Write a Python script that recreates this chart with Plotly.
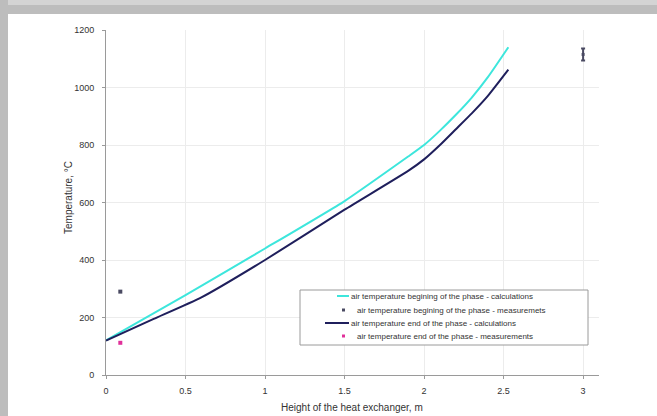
import plotly.graph_objects as go

# Data
x_begin_calc = [0, 0.5, 1.0, 1.5, 1.9, 2.0, 2.1, 2.2, 2.3, 2.4, 2.53]
y_begin_calc = [120, 278, 440, 605, 760, 800, 850, 905, 965, 1035, 1140]

x_end_calc = [0, 0.3, 0.6, 1.0, 1.5, 1.9, 2.0, 2.1, 2.2, 2.3, 2.4, 2.53]
y_end_calc = [120, 195, 270, 400, 575, 710, 750, 800, 855, 910, 970, 1062]

x_begin_meas = [0.09]
y_begin_meas = [290]

x_end_meas = [0.09]
y_end_meas = [112]

x_extra_meas = [3.0]
y_extra_meas = [1115]
err_extra_meas = [21]

legend_names = [
    "air temperature begining of the phase - calculations",
    "air temperature begining of the phase - measuremets",
    "air temperature end of the phase - calculations",
    "air temperature end of the phase - measurements",
]

CYAN = "#3de6dc"
NAVY = "#1f1f5c"
DARK = "#4a4a62"
MAGENTA = "#e0309a"
FONT = "Liberation Sans, Arial, sans-serif"

# pixel layout
L, R, T, B = 106, 58, 30, 41
W, H = 657, 416
PW, PH = W - L - R, H - T - B


def px(xp):
    return (xp - L) / PW


def py(yp):
    return (H - B - yp) / PH


fig = go.Figure()
fig.add_trace(go.Scatter(x=x_begin_calc, y=y_begin_calc, mode="lines",
                         line=dict(color=CYAN, width=2, shape="spline", smoothing=0.5),
                         name=legend_names[0], showlegend=False))
fig.add_trace(go.Scatter(x=x_end_calc, y=y_end_calc, mode="lines",
                         line=dict(color=NAVY, width=2, shape="spline", smoothing=0.5),
                         name=legend_names[2], showlegend=False))
fig.add_trace(go.Scatter(x=x_begin_meas, y=y_begin_meas, mode="markers",
                         marker=dict(color=DARK, size=4, symbol="square"),
                         name=legend_names[1], showlegend=False))
fig.add_trace(go.Scatter(x=x_end_meas, y=y_end_meas, mode="markers",
                         marker=dict(color=MAGENTA, size=4, symbol="square"),
                         name=legend_names[3], showlegend=False))
fig.add_trace(go.Scatter(x=x_extra_meas, y=y_extra_meas, mode="markers",
                         marker=dict(color=DARK, size=3, symbol="square"),
                         error_y=dict(type="data", array=err_extra_meas, color=DARK,
                                      thickness=2, width=2),
                         name=legend_names[1], showlegend=False))

shapes = []
# grey frame around the picture
shapes.append(dict(type="rect", xref="paper", yref="paper", layer="below",
                   x0=px(0), x1=px(W), y0=py(0), y1=py(14),
                   fillcolor="#bdbdbd", line=dict(width=0)))
shapes.append(dict(type="rect", xref="paper", yref="paper", layer="below",
                   x0=px(0), x1=px(W), y0=py(0), y1=py(5),
                   fillcolor="#d4d4d4", line=dict(width=0)))
shapes.append(dict(type="rect", xref="paper", yref="paper", layer="below",
                   x0=px(0), x1=px(8), y0=py(0), y1=py(H),
                   fillcolor="#bdbdbd", line=dict(width=0)))

# manual legend
shapes.append(dict(type="rect", xref="paper", yref="paper",
                   x0=px(300), x1=px(588), y0=py(345), y1=py(290),
                   fillcolor="white", line=dict(color="#9a9a9a", width=1)))
item_y = [296, 310, 323, 336]
shapes.append(dict(type="line", xref="paper", yref="paper",
                   x0=px(337), x1=px(349), y0=py(item_y[0]), y1=py(item_y[0]),
                   line=dict(color=CYAN, width=2)))
shapes.append(dict(type="line", xref="paper", yref="paper",
                   x0=px(325), x1=px(349), y0=py(item_y[2]), y1=py(item_y[2]),
                   line=dict(color=NAVY, width=2)))
for yy, col in [(item_y[1], DARK), (item_y[3], MAGENTA)]:
    shapes.append(dict(type="rect", xref="paper", yref="paper",
                       x0=px(342), x1=px(345), y0=py(yy + 1.5), y1=py(yy - 1.5),
                       fillcolor=col, line=dict(width=0)))

annotations = []
text_x = [349, 355, 349, 355]
for name, yy, xx in zip(legend_names, item_y, text_x):
    annotations.append(dict(xref="paper", yref="paper", x=px(xx), y=py(yy),
                            xanchor="left", yanchor="middle", showarrow=False,
                            text=name, font=dict(family=FONT, size=8, color="#333333")))

annotations.append(dict(xref="paper", yref="paper", x=px(352), y=py(407),
                        xanchor="center", yanchor="middle", showarrow=False,
                        text="Height of the heat exchanger, m",
                        font=dict(family=FONT, size=10, color="#333333")))
annotations.append(dict(xref="paper", yref="paper", x=px(68), y=py(198),
                        xanchor="center", yanchor="middle", showarrow=False,
                        textangle=-90, text="Temperature, °C",
                        font=dict(family=FONT, size=10, color="#333333")))

fig.update_layout(
    width=W, height=H,
    margin=dict(l=L, r=R, t=T, b=B),
    paper_bgcolor="white",
    plot_bgcolor="rgba(0,0,0,0)",
    showlegend=False,
    shapes=shapes,
    annotations=annotations,
    font=dict(family=FONT, size=9, color="#333333"),
)
fig.update_xaxes(range=[0, 3.1], tickvals=[0, 0.5, 1, 1.5, 2, 2.5, 3],
                 ticktext=["0", "0.5", "1", "1.5", "2", "2.5", "3"],
                 showgrid=True, gridcolor="#ececec", gridwidth=1,
                 showline=True, linecolor="#9a9a9a", linewidth=1,
                 ticks="outside", ticklen=3, tickcolor="#9a9a9a",
                 ticklabelstandoff=4, zeroline=False,
                 tickfont=dict(family=FONT, size=9, color="#333333"))
fig.update_yaxes(range=[0, 1200], tickvals=[0, 200, 400, 600, 800, 1000, 1200],
                 showgrid=True, gridcolor="#ececec", gridwidth=1,
                 showline=True, linecolor="#9a9a9a", linewidth=1,
                 ticks="outside", ticklen=3, tickcolor="#9a9a9a",
                 ticklabelstandoff=6, zeroline=False,
                 tickfont=dict(family=FONT, size=9, color="#333333"))

fig.write_html("out.html")
